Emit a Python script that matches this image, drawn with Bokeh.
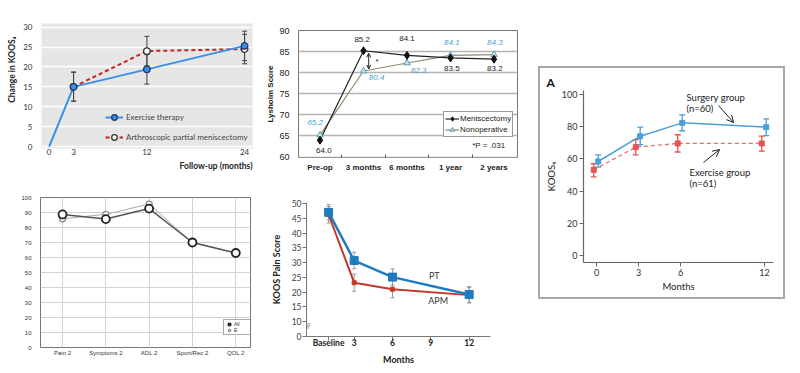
import math
from bokeh.plotting import figure
from bokeh.layouts import row, column
from bokeh.models import (Label, Legend, LegendItem, Whisker, TeeHead, Arrow, OpenHead, Title,
                          FixedTicker, ColumnDataSource, Spacer, Range1d)
from bokeh.embed import file_html
from bokeh.resources import INLINE

# ---------------- data ----------------
# Panel 1: change in KOOS4
p1_months = [0, 3, 12, 24]
p1_et = [0, 15.0, 19.4, 25.3]
p1_et_lo = [None, 11.4, 15.7, 21.6]
p1_et_hi = [None, 18.7, 23.1, 29.0]
p1_apm_months = [3, 12, 24]
p1_apm = [15.0, 24.0, 24.5]
p1_apm_lo = [11.4, 20.3, 20.8]
p1_apm_hi = [18.7, 27.7, 28.2]

# Panel 2: Lysholm score
p2_cats = ["Pre-op", "3 months", "6 months", "1 year", "2 years"]
p2_men = [64.0, 85.2, 84.1, 83.5, 83.2]
p2_non = [65.2, 80.4, 82.3, 84.1, 84.3]

# Panel 3: KOOS4 surgery vs exercise
p3_months = [0, 3, 6, 12]
p3_surg = [58.4, 74.1, 82.4, 79.7]
p3_surg_lo = [54.9, 68.8, 77.5, 74.5]
p3_surg_hi = [62.5, 79.7, 87.4, 84.9]
p3_ex = [53.2, 67.3, 69.6, 69.6]
p3_ex_lo = [48.8, 62.5, 64.3, 64.8]
p3_ex_hi = [57.0, 72.0, 75.0, 74.1]

# Panel 4: KOOS subscales
p4_cats = ["Pain 2", "Symptoms 2", "ADL 2", "Sport/Rec 2", "QOL 2"]
p4_all = [88.7, 85.6, 92.6, 70.0, 63.0]
p4_e = [85.8, 88.8, 95.6, 70.0, 63.0]

# Panel 5: KOOS pain score
p5_months = [1, 3, 6, 12]
p5_ticks = [1, 3, 6, 9, 12]
p5_tick_labels = ["Baseline", "3", "6", "9", "12"]
p5_pt = [47.0, 30.7, 25.1, 19.2]
p5_pt_lo = [44.4, 27.9, 22.4, 16.4]
p5_pt_hi = [49.7, 33.5, 27.9, 21.9]
p5_apm = [46.2, 23.2, 21.0, 19.0]
p5_apm_lo = [43.4, 20.3, 18.1, 16.4]
p5_apm_hi = [49.0, 26.1, 24.1, 21.6]

HAS_STANDOFF = "standoff" in Title.properties()


def base_fig(**kw):
    p = figure(output_backend="svg", toolbar_location=None, title=None, **kw)
    p.border_fill_color = "white"
    return p


def lab(p, x, y, text, font, size, color="#333", style="normal", align="center",
        baseline="middle", angle=0.0):
    p.add_layout(Label(x=x, y=y, text=text, text_font=font, text_font_size=size,
                       text_color=color, text_font_style=style, text_align=align,
                       text_baseline=baseline, angle=angle))


def side_title(p, text, side, font, size, align="center", offset=0, standoff=0,
               style="bold", color="#222"):
    kw = dict(text=text, align=align, offset=offset, text_font=font, text_font_size=size,
              text_font_style=style, text_color=color)
    if HAS_STANDOFF:
        kw["standoff"] = standoff
    p.add_layout(Title(**kw), side)


def whiskers(p, xs, lo, hi, color, size=5, width=1.0):
    pts = [(x, l, h) for x, l, h in zip(xs, lo, hi) if l is not None]
    src = ColumnDataSource(dict(x=[a for a, _, _ in pts], lo=[b for _, b, _ in pts],
                                hi=[c for _, _, c in pts]))
    w = Whisker(source=src, base="x", lower="lo", upper="hi", dimension="height",
                line_color=color, line_width=width,
                upper_head=TeeHead(size=size, line_color=color, line_width=width),
                lower_head=TeeHead(size=size, line_color=color, line_width=width))
    p.add_layout(w)


# ---------------- Panel 1 ----------------
F1 = "Lato"
p1 = base_fig(width=262, height=180, x_range=Range1d(-0.94, 24.97), y_range=Range1d(-0.5, 30.93),
              min_border_left=40, min_border_right=10, min_border_top=23, min_border_bottom=32)
p1.background_fill_color = "#e6e6e6"
p1.outline_line_color = None
p1.xgrid.grid_line_color = None
p1.ygrid.grid_line_color = "white"
p1.ygrid.grid_line_width = 1.5
p1.yaxis.ticker = FixedTicker(ticks=[0, 5, 10, 15, 20, 25, 30])
p1.xaxis.ticker = FixedTicker(ticks=p1_months)
for ax in (p1.xaxis, p1.yaxis):
    ax.axis_line_color = None
    ax.major_tick_line_color = None
    ax.minor_tick_line_color = None
    ax.major_label_text_font = F1
    ax.major_label_text_font_size = "8px"
    ax.major_label_text_color = "#333"
p1.xaxis.major_label_standoff = -6
p1.yaxis.major_label_standoff = 3

whiskers(p1, p1_apm_months, p1_apm_lo, p1_apm_hi, "#444", size=5)
whiskers(p1, p1_months, p1_et_lo, p1_et_hi, "#444", size=5)
apm_line = p1.line(p1_apm_months, p1_apm, line_color="#c8201e", line_width=2, line_dash="4 3")
et_line = p1.line(p1_months, p1_et, line_color="#3a8fe6", line_width=2)
apm_pts = p1.scatter(p1_apm_months, p1_apm, marker="circle", size=6.5, fill_color="white",
                     line_color="#333", line_width=1.3)
et_pts = p1.scatter(p1_months[1:], p1_et[1:], marker="circle", size=6.5, fill_color="#3a8fe6",
                    line_color="#1e3a66", line_width=1.3)
leg1 = Legend(items=[LegendItem(label="Exercise therapy", renderers=[et_line, et_pts]),
                     LegendItem(label="Arthroscopic partial meniscectomy", renderers=[apm_line, apm_pts])],
              location=(64, 4), background_fill_alpha=0, border_line_color=None,
              padding=0, margin=0, spacing=6, glyph_height=14, label_height=14, glyph_width=18,
              label_standoff=3, label_text_font=F1, label_text_font_size="8px", label_text_color="#444")
p1.add_layout(leg1)
side_title(p1, "Change in KOOS\u2084", "left", F1, "8.5px", align="right", offset=13, standoff=8)
side_title(p1, "Follow-up (months)", "below", F1, "8.5px", align="right", offset=0, standoff=3)

# ---------------- Panel 2 ----------------
F2 = "Liberation Sans"
p2_idx = list(range(len(p2_cats)))
p2 = base_fig(width=268, height=180, x_range=Range1d(-0.494, 4.54), y_range=Range1d(59.9, 90),
              min_border_left=31, min_border_right=13, min_border_top=30, min_border_bottom=23)
p2.outline_line_color = "#777"
p2.outline_line_width = 1
p2.xgrid.grid_line_color = None
p2.ygrid.grid_line_color = "#b5b5b5"
p2.ygrid.grid_line_width = 1.6
p2.yaxis.ticker = FixedTicker(ticks=[60, 65, 70, 75, 80, 85, 90])
p2.xaxis.ticker = FixedTicker(ticks=p2_idx, minor_ticks=[0.5, 1.5, 2.5, 3.5])
p2.xaxis.major_label_overrides = {i: c for i, c in zip(p2_idx, p2_cats)}
for ax in (p2.xaxis, p2.yaxis):
    ax.axis_line_color = None
    ax.major_tick_line_color = None
    ax.major_label_text_font = F2
    ax.major_label_text_color = "#222"
p2.yaxis.minor_tick_line_color = None
p2.xaxis.minor_tick_line_color = "#555"
p2.xaxis.minor_tick_in = 3
p2.xaxis.minor_tick_out = 0
p2.yaxis.major_label_text_font_size = "9px"
p2.yaxis.major_label_standoff = 3
p2.xaxis.major_label_text_font_size = "8px"
p2.xaxis.major_label_text_font_style = "bold"
p2.xaxis.major_label_standoff = -1

non_line = p2.line(p2_idx, p2_non, line_color="#8a8a70", line_width=1.2)
men_line = p2.line(p2_idx, p2_men, line_color="#222", line_width=1.2)
non_pts = p2.scatter(p2_idx, p2_non, marker="triangle", size=6.5, fill_color="#bfe4ee",
                     line_color="#5b9fb5", line_width=1)
men_pts = p2.scatter(p2_idx, p2_men, marker="diamond", size=8, fill_color="#111", line_color="#111")
leg2 = Legend(items=[LegendItem(label="Meniscectomy", renderers=[men_line, men_pts]),
                     LegendItem(label="Nonoperative", renderers=[non_line, non_pts])],
              location=(145, 20), background_fill_color="white", background_fill_alpha=1,
              border_line_color="#333", border_line_width=1, padding=1, margin=0, spacing=0,
              glyph_height=11, label_height=11, glyph_width=14, label_standoff=1,
              label_text_font=F2, label_text_font_size="8px", label_text_color="#222")
p2.add_layout(leg2)
BLUE2 = "#4a9fcf"
lab(p2, 0.97, 87.9, "85.2", F2, "8px", "#222")
lab(p2, 2.0, 88.1, "84.1", F2, "8px", "#222")
lab(p2, 3.03, 81.0, "83.5", F2, "8px", "#222")
lab(p2, 4.02, 81.0, "83.2", F2, "8px", "#222")
lab(p2, 0.09, 61.6, "64.0", F2, "8px", "#222")
lab(p2, -0.11, 68.2, "65.2", F2, "8px", BLUE2, "italic")
lab(p2, 1.30, 78.9, "80.4", F2, "8px", BLUE2, "italic")
lab(p2, 2.27, 80.5, "82.3", F2, "8px", BLUE2, "italic")
lab(p2, 3.03, 87.2, "84.1", F2, "8px", BLUE2, "italic")
lab(p2, 4.02, 87.2, "84.3", F2, "8px", BLUE2, "italic")
lab(p2, 1.31, 82.6, "*", F2, "8px", "#222")
lab(p2, 3.88, 62.7, "*P = .031", F2, "8px", "#222")
side_title(p2, "Lysholm Score", "left", F2, "8px", align="center", offset=0, standoff=3)
p2.add_layout(Arrow(x_start=1.12, y_start=84.6, x_end=1.12, y_end=80.9, line_width=1,
                    line_color="#222", start=OpenHead(size=4, line_width=1, line_color="#222"),
                    end=OpenHead(size=4, line_width=1, line_color="#222")))

# ---------------- Panel 3 ----------------
F3 = "Lato"
p3 = base_fig(width=243, height=229, x_range=Range1d(-0.93, 12.64), y_range=Range1d(-4.35, 102.5),
              min_border_left=43, min_border_right=10, min_border_top=22, min_border_bottom=35)
p3.outline_line_color = None
p3.xgrid.grid_line_color = None
p3.ygrid.grid_line_color = None
p3.yaxis.ticker = FixedTicker(ticks=[0, 20, 40, 60, 80, 100])
p3.xaxis.ticker = FixedTicker(ticks=p3_months)
for ax in (p3.xaxis, p3.yaxis):
    ax.axis_line_color = "#666"
    ax.axis_line_width = 1.2
    ax.major_tick_line_color = "#666"
    ax.major_tick_out = 4
    ax.major_tick_in = 0
    ax.minor_tick_line_color = None
    ax.major_label_text_font = F3
    ax.major_label_text_font_size = "9px"
    ax.major_label_text_color = "#333"
    ax.major_label_standoff = 2
surg_x = [m + 0.12 for m in p3_months]
ex_x = [m - 0.2 for m in p3_months]
SB, ER = "#4aa0d8", "#e35555"
whiskers(p3, surg_x, p3_surg_lo, p3_surg_hi, SB, size=6, width=1.3)
whiskers(p3, ex_x, p3_ex_lo, p3_ex_hi, ER, size=6, width=1.3)
p3.line(ex_x, p3_ex, line_color=ER, line_width=1.3, line_dash="4 3", line_alpha=0.85)
p3.line(surg_x, p3_surg, line_color=SB, line_width=1.5)
p3.scatter(ex_x, p3_ex, marker="square", size=5, fill_color=ER, line_color=ER)
p3.scatter(surg_x, p3_surg, marker="square", size=5, fill_color=SB, line_color=SB)
lab(p3, 6.43, 98.1, "Surgery group", F3, "9.5px", "#222", align="left")
lab(p3, 6.43, 91.3, "(n=60)", F3, "9.5px", "#222", align="left")
lab(p3, 6.64, 51.6, "Exercise group", F3, "9.5px", "#222", align="left")
lab(p3, 6.64, 44.7, "(n=61)", F3, "9.5px", "#222", align="left")
side_title(p3, "A", "above", F3, "12px", align="left", offset=-37, standoff=1, color="#111")
side_title(p3, "KOOS\u2084", "left", F3, "9.5px", align="center", offset=3, standoff=4, style="normal")
side_title(p3, "Months", "below", F3, "9.5px", align="center", offset=0, standoff=1, style="normal")
p3.add_layout(Arrow(x_start=8.71, y_start=93.2, x_end=9.79, y_end=82.6, line_width=1,
                    line_color="#222", end=OpenHead(size=7, line_width=1, line_color="#222")))
p3.add_layout(Arrow(x_start=7.64, y_start=57.8, x_end=8.79, y_end=65.8, line_width=1,
                    line_color="#222", end=OpenHead(size=7, line_width=1, line_color="#222")))
box3 = column(p3, styles={"border": "2px solid #a8a8a8"})

# ---------------- Panel 4 ----------------
F4 = "Liberation Sans"
p4_idx = list(range(len(p4_cats)))
p4 = base_fig(width=262, height=192, x_range=Range1d(-0.508, 4.34), y_range=Range1d(0, 100),
              min_border_left=40, min_border_right=12, min_border_top=17, min_border_bottom=25)
p4.outline_line_color = "#777"
p4.xgrid.grid_line_color = "#d2d2d2"
p4.ygrid.grid_line_color = "#d2d2d2"
p4.yaxis.ticker = FixedTicker(ticks=list(range(0, 101, 10)))
p4.xaxis.ticker = FixedTicker(ticks=p4_idx)
p4.xaxis.major_label_overrides = {i: c for i, c in zip(p4_idx, p4_cats)}
for ax in (p4.xaxis, p4.yaxis):
    ax.axis_line_color = None
    ax.major_tick_line_color = None
    ax.minor_tick_line_color = None
    ax.major_label_text_font = F4
    ax.major_label_text_font_size = "6px"
    ax.major_label_text_color = "#333"
    ax.major_label_standoff = 3
p4.xaxis.major_label_standoff = -4
e_line = p4.line(p4_idx, p4_e, line_color="#aaa", line_width=1)
all_line = p4.line(p4_idx, p4_all, line_color="#555", line_width=1.5)
e_pts = p4.scatter(p4_idx, p4_e, marker="circle", size=6, fill_color="white", line_color="#888",
                   line_width=1.2)
all_pts = p4.scatter(p4_idx, p4_all, marker="circle", size=8, fill_color="white", line_color="#222",
                     line_width=1.8)
leg4 = Legend(items=[LegendItem(label="All", renderers=[all_pts]),
                     LegendItem(label="E", renderers=[e_pts])],
              location=(183, 12), background_fill_color="white", border_line_color="#555",
              border_line_width=1, padding=1, margin=0, spacing=0, glyph_height=6, label_height=6,
              glyph_width=8, label_standoff=1, label_text_font=F4, label_text_font_size="5px",
              label_text_color="#333")
p4.add_layout(leg4)

# ---------------- Panel 5 ----------------
F5 = "Lato"
p5 = base_fig(width=268, height=192, x_range=Range1d(-0.73, 13.67), y_range=Range1d(5.0, 50.34),
              min_border_left=35, min_border_right=40, min_border_top=22, min_border_bottom=36)
p5.outline_line_color = None
p5.xgrid.grid_line_color = None
p5.ygrid.grid_line_color = None
p5.yaxis.ticker = FixedTicker(ticks=[5, 10, 15, 20, 25, 30, 35, 40, 45, 50])
p5.yaxis.major_label_overrides = {5: "0"}
p5.xaxis.ticker = FixedTicker(ticks=p5_ticks)
p5.xaxis.major_label_overrides = {t: s for t, s in zip(p5_ticks, p5_tick_labels)}
for ax in (p5.xaxis, p5.yaxis):
    ax.axis_line_color = "#777"
    ax.major_tick_line_color = "#777"
    ax.major_tick_out = 4
    ax.major_tick_in = 0
    ax.minor_tick_line_color = None
    ax.major_label_text_font = F5
    ax.major_label_text_font_size = "8.5px"
    ax.major_label_text_color = "#444"
    ax.major_label_standoff = 1
p5.xaxis.major_label_standoff = -3
p5.xaxis.major_label_text_font_style = "bold"
p5.xaxis.major_label_text_color = "#222"
PT, AP = "#1f7bbf", "#c0392b"
whiskers(p5, p5_months, p5_apm_lo, p5_apm_hi, "#999", size=4)
whiskers(p5, p5_months, p5_pt_lo, p5_pt_hi, "#999", size=4)
p5.line(p5_months, p5_apm, line_color=AP, line_width=2)
p5.line(p5_months, p5_pt, line_color=PT, line_width=2.5)
p5.scatter(p5_months, p5_apm, marker="square", size=4, fill_color=AP, line_color=AP)
p5.scatter(p5_months, p5_pt, marker="square", size=8, fill_color=PT, line_color=PT)
lab(p5, 9.27, 25.6, "PT", F5, "9px", "#333")
lab(p5, 9.57, 17.2, "APM", F5, "9px", "#333")
lab(p5, -0.6, 8.4, "//", F5, "8px", "#666")
side_title(p5, "KOOS Pain Score", "left", F5, "9px", align="center", offset=-9, standoff=13)
side_title(p5, "Months", "below", F5, "9px", align="center", offset=13, standoff=2)

# ---------------- layout ----------------
left_col = column(row(p1), row(p4))
mid_col = column(row(p2), row(p5))
right_col = column(Spacer(width=255, height=66), row(Spacer(width=8, height=10), box3))
layout = row(left_col, mid_col, right_col)

open("out.html", "w").write(file_html(layout, INLINE))
